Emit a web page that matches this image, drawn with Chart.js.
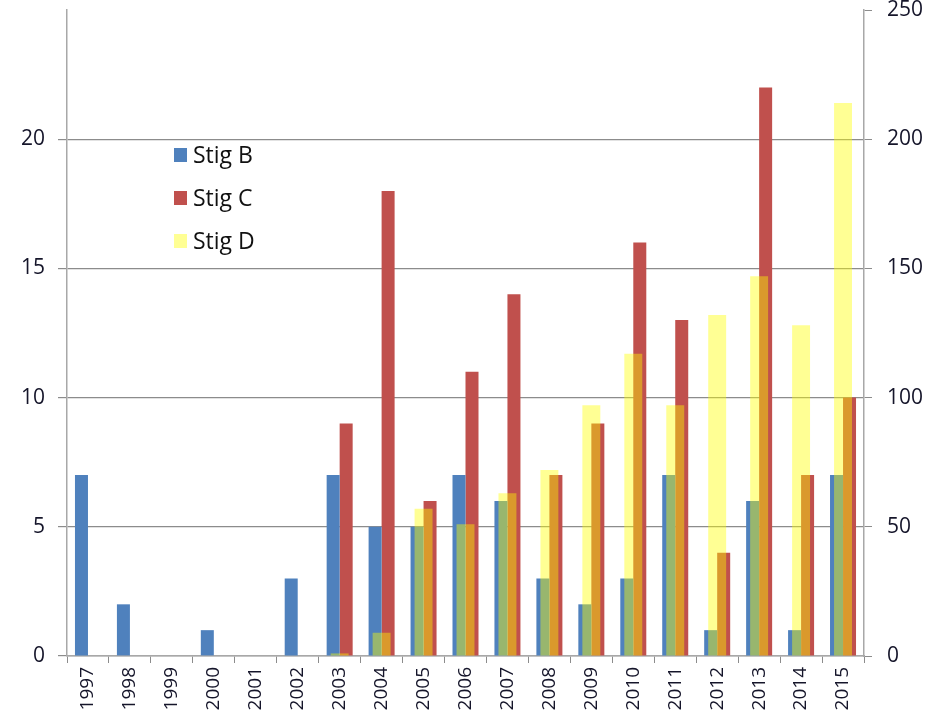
<!DOCTYPE html>
<html>
<head>
<meta charset="utf-8">
<script src="https://cdn.jsdelivr.net/npm/chart.js@4.4.1/dist/chart.umd.min.js"></script>
<style>
  html, body { margin: 0; padding: 0; background: #ffffff; }
  #wrap { width: 933px; height: 718px; position: relative; }
</style>
</head>
<body>
<div id="wrap"><canvas id="chart" width="933" height="718"></canvas></div>
<script>
// Years on the category axis
const years = ['1997', '1998', '1999', '2000', '2001', '2002', '2003', '2004', '2005', '2006',
               '2007', '2008', '2009', '2010', '2011', '2012', '2013', '2014', '2015'];

// Stig B and Stig C use the left axis
const stigB = [7, 2, 0, 1, 0, 3, 7, 5, 5, 7, 6, 3, 2, 3, 7, 1, 6, 1, 7];
const stigC = [0, 0, 0, 0, 0, 0, 9, 18, 6, 11, 14, 7, 9, 16, 13, 4, 22, 7, 10];

// Stig D uses the right axis
const stigD = [null, null, null, null, null, null, 1, 9, 57, 51, 63, 72, 97, 117, 97, 132, 147, 128, 214];

// Axis ranges
const leftMax = 25, leftStep = 5;
const rightMax = 250, rightStep = 50;

const tickColor = '#15152a';
const gridColor = '#8c8c8c';
const axisColor = '#a8a8a8';
const uiFont = '"Open Sans", "Liberation Sans", sans-serif';

// Legend drawn inside the plot, as a vertical list
const innerLegend = {
  id: 'innerLegend',
  afterDraw(chart, args, opts) {
    const ctx = chart.ctx;
    ctx.save();
    ctx.font = `23px ${uiFont}`;
    ctx.textBaseline = 'middle';
    ctx.textAlign = 'left';
    chart.data.datasets.forEach((ds, i) => {
      const y = opts.y + i * opts.gap;
      ctx.fillStyle = ds.legendColor || ds.backgroundColor;
      ctx.fillRect(opts.x, y - 7, 13, 14);
      ctx.fillStyle = '#111111';
      ctx.fillText(ds.label, opts.x + 19, y + 1);
    });
    ctx.restore();
  }
};

// Vertical axes keep no extra room for their end labels
function fixedWidth(w) {
  return (scale) => {
    scale.width = w;
    scale.paddingTop = 0;
    scale.paddingBottom = 0;
  };
}

new Chart(document.getElementById('chart'), {
  type: 'bar',
  data: {
    labels: years,
    datasets: [
      {
        label: 'Stig B',
        data: stigB,
        backgroundColor: '#4f81bd',
        yAxisID: 'y',
        order: 1,
        categoryPercentage: 0.62,
        barPercentage: 1.0
      },
      {
        label: 'Stig C',
        data: stigC,
        backgroundColor: '#c0504d',
        yAxisID: 'y',
        order: 1,
        categoryPercentage: 0.62,
        barPercentage: 1.0
      },
      {
        label: 'Stig D',
        data: stigD,
        backgroundColor: 'rgba(255, 255, 0, 0.42)',
        legendColor: '#ffff94',
        yAxisID: 'y2',
        order: 0,
        grouped: false,
        categoryPercentage: 0.62,
        barPercentage: 0.69
      }
    ]
  },
  options: {
    responsive: false,
    animation: false,
    layout: { padding: { top: 10, left: 0, right: 0, bottom: 0 } },
    plugins: {
      legend: { display: false },
      tooltip: { enabled: false },
      innerLegend: { x: 174, y: 155, gap: 43 }
    },
    scales: {
      x: {
        offset: true,
        grid: {
          offset: true,
          drawOnChartArea: false,
          drawTicks: true,
          tickLength: 7,
          color: gridColor
        },
        border: { color: axisColor, width: 1.5 },
        ticks: {
          color: tickColor,
          font: { family: uiFont, size: 19, lineHeight: 1 },
          minRotation: 90,
          maxRotation: 90,
          autoSkip: false,
          padding: 4
        },
        afterFit(scale) { scale.height = 62; }
      },
      y: {
        position: 'left',
        min: 0,
        max: leftMax,
        grid: {
          color: (c) => (c.tick && c.tick.value === leftMax ? 'rgba(0,0,0,0)' : gridColor),
          lineWidth: 1.2,
          tickLength: 9
        },
        border: { color: axisColor, width: 1.5 },
        ticks: {
          stepSize: leftStep,
          color: tickColor,
          font: { family: uiFont, size: 21, lineHeight: 1 },
          padding: 13,
          callback: (v) => (v === leftMax ? '' : v)
        },
        afterFit: fixedWidth(67)
      },
      y2: {
        position: 'right',
        min: 0,
        max: rightMax,
        grid: {
          drawOnChartArea: false,
          color: gridColor,
          tickLength: 8
        },
        border: { color: axisColor, width: 1.5 },
        ticks: {
          stepSize: rightStep,
          color: tickColor,
          font: { family: uiFont, size: 21, lineHeight: 1 },
          padding: 15
        },
        afterFit: fixedWidth(69)
      }
    }
  },
  plugins: [innerLegend]
});
</script>
</body>
</html>
